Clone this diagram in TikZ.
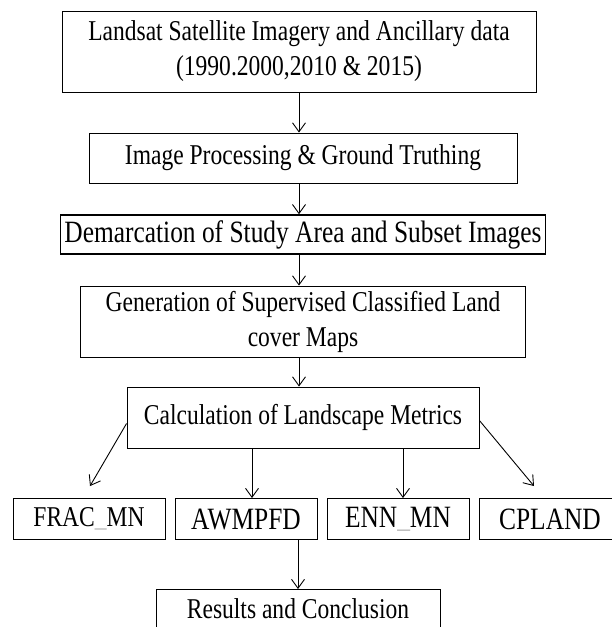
\documentclass[tikz,border=0pt]{standalone}
\usepackage{fontspec}
\setmainfont{Liberation Serif}[FakeStretch=0.82]
\usetikzlibrary{arrows.meta,positioning}

\begin{document}
\begin{tikzpicture}[x=1pt,y=-1pt,>={Straight Barb[length=9pt,width=13pt]},on grid,
    box/.style={draw,line width=0.9pt,inner sep=0pt,align=center,font=\fontsize{28.7}{35}\selectfont},
    metric/.style={box,minimum width=142pt,minimum height=41pt}]
  \useasboundingbox[fill=white] (0,0) rectangle (611,627);

    \node[box,minimum width=474pt,minimum height=81pt] (land) at (299,51.5) {Landsat Satellite Imagery and Ancillary data\\(1990.2000,2010 \& 2015)};
    \node[box,minimum width=428pt,minimum height=50pt] (proc) [below right=106.5pt and 4pt of land] {Image Processing \& Ground Truthing};
    \node[box,line width=1.5pt,minimum width=485pt,minimum height=39pt,font=\fontsize{31}{34}\selectfont] (demarc) [below=76.5pt of proc] {Demarcation of Study Area and Subset Images};
    \node[box,minimum width=445pt,minimum height=71pt] (gen) [below=87pt of demarc] {Generation of Supervised Classified Land\\cover Maps};
    \node[box,minimum width=352pt,minimum height=61pt] (calc) [below=96pt of gen] {Calculation of Landscape Metrics};

    \node[metric,minimum width=152pt] (frac) [below left=101.5pt and 214pt of calc] {FRAC\textcolor{black!25}{\_}MN};
    \node[metric,font=\fontsize{31}{34}\selectfont] (awm) [right=157pt of frac] {AWMPFD};
    \node[metric,font=\fontsize{31}{34}\selectfont] (enn) [right=152pt of awm] {ENN\textcolor{black!25}{\_}MN};
    \node[metric,font=\fontsize{31}{34}\selectfont] (cpl) [right=152pt of enn] {CPLAND};
    \node[box,minimum width=284pt,minimum height=38pt] (res) [below right=89.5pt and 52pt of awm] {Results and Conclusion};

    \tikzset{flow/.style={->,line width=0.9pt}}
    \draw[flow] (land.south) -- (land.south |- proc.north);
    \draw[flow] (land.south |- proc.south) -- (land.south |- demarc.north);
    \draw[flow] (land.south |- demarc.south) -- (land.south |- gen.north);
    \draw[flow] (land.south |- gen.south) -- (land.south |- calc.north);
    \draw[flow] ([yshift=-6pt]calc.west) -- ([xshift=1pt,yshift=12pt]frac.north);
    \draw[flow] ([xshift=6pt]awm.north |- calc.south) -- ([xshift=6pt]awm.north);
    \draw[flow] ([xshift=5pt]enn.north |- calc.south) -- ([xshift=5pt]enn.north);
    \draw[flow] ([yshift=-3pt]calc.east) -- ([xshift=-16pt,yshift=12pt]cpl.north);
    \draw[flow] (res.north |- awm.south) -- (res.north);
\end{tikzpicture}
\end{document}
